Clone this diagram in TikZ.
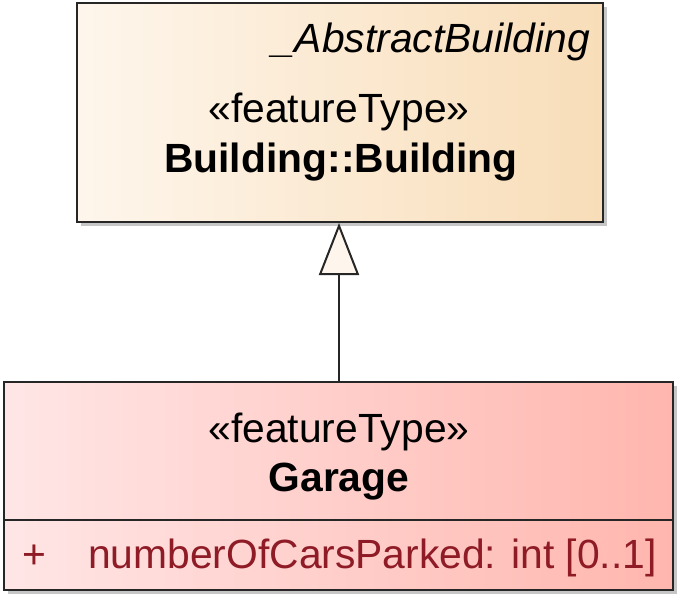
\documentclass[tikz,border=0pt]{standalone}
\usepackage{fontspec}
\setmainfont{Liberation Sans}
\usetikzlibrary{arrows.meta,shadows}
\definecolor{creamL}{HTML}{FEF6EC}
\definecolor{creamR}{HTML}{F8DDB8}
\definecolor{pinkL}{HTML}{FFE6E6}
\definecolor{pinkR}{HTML}{FFB6AE}
\definecolor{attr}{HTML}{8E1B26}
\definecolor{shade}{HTML}{A0A0A0}
\tikzset{
  x=1pt, y=-1pt,
  umlbox/.style={draw=black!85, line width=2pt, rectangle, inner sep=0pt,
    drop shadow={shadow xshift=4pt, shadow yshift=-4pt, fill=shade, opacity=0.6}},
  txt/.style={font=\fontsize{40.8}{48}\selectfont, inner sep=0pt, anchor=base},
}
\begin{document}
\begin{tikzpicture}
\useasboundingbox (0,0) rectangle (685,605);
% top box
\node[umlbox, left color=creamL, right color=creamR, minimum width=526pt, minimum height=219pt] (top) at (340,112.5) {};
% bottom box
\node[umlbox, left color=pinkL, right color=pinkR, minimum width=669pt, minimum height=208pt] (bot) at (338.5,486) {};
\coordinate (divL) at (4,520);
\coordinate (divR) at (673,520);
\draw[black!85, line width=2pt] (divL) -- (divR);
% texts top
\node[txt, anchor=base east, font=\fontsize{40.8}{48}\selectfont\itshape] (abs) at (590,52) {\_AbstractBuilding};
\node[txt] (st1) at (339,122) {«featureType»};
\node[txt, font=\fontsize{40.8}{48}\selectfont\bfseries] (n1) at (341,172) {Building::Building};
% texts bottom
\node[txt] (st2) at (339,442) {«featureType»};
\node[txt, font=\fontsize{40.8}{48}\selectfont\bfseries] (n2) at (339,491) {Garage};
\node[txt, anchor=base west, text=attr] (plus) at (22,568) {+};
\node[txt, anchor=base west, text=attr] (att) at (88,568) {numberOfCarsParked: int [0..1]};
% generalization
\draw[black!85, line width=2pt, -{Triangle[length=52pt, width=40pt, open, fill=creamL, line width=2pt]}] (bot.north -| 339,0) -- (top.south -| 339,0);
\end{tikzpicture}
\end{document}
